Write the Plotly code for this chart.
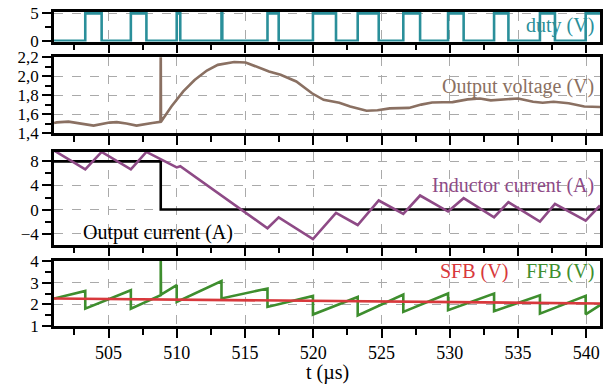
import plotly.graph_objects as go

# ---------------- data ----------------
duty_t = [501.0, 503.29, 504.49, 506.63, 507.77, 509.99, 510.25, 513.27, 513.33,
          516.64, 517.46, 519.97, 521.66, 523.25, 524.79, 526.59, 527.82, 529.87,
          531.01, 533.24, 534.29, 536.6, 537.7, 539.95, 541.0]
duty_v = [0, 5, 0, 5, 0, 5, 0, 5, 0, 5, 0, 5, 0, 5, 0, 5, 0, 5, 0, 5, 0, 5, 0, 5, 5]

vout_t = [501.0, 501.2, 502.06, 503.0, 503.9, 505.06, 505.6, 506.3, 507.05, 508.2,
          508.8, 508.82, 508.84, 509.6, 510.47, 511.3, 512.2, 513.0, 514.2, 515.04,
          515.9, 516.75, 517.6, 518.75, 519.9, 520.75, 521.9, 522.7, 523.9, 524.7,
          525.6, 526.3, 527.0, 527.9, 528.7, 529.5, 530.2, 531.3, 532.2, 533.0,
          534.1, 535.0, 536.1, 536.8, 537.6, 538.7, 539.85, 541.0]
vout_v = [1.505, 1.512, 1.52, 1.50, 1.478, 1.51, 1.515, 1.50, 1.478, 1.505,
          1.518, 2.35, 1.52, 1.68, 1.84, 1.96, 2.06, 2.12, 2.15, 2.145,
          2.10, 2.05, 2.015, 1.945, 1.82, 1.75, 1.72, 1.68, 1.635, 1.64,
          1.66, 1.66, 1.665, 1.70, 1.722, 1.725, 1.726, 1.755, 1.765, 1.745,
          1.76, 1.765, 1.73, 1.72, 1.73, 1.715, 1.68, 1.675]

il_t = [501.0, 503.29, 504.49, 506.63, 507.77, 509.99, 510.25, 514.75, 516.64,
        517.46, 519.97, 521.66, 523.25, 524.79, 526.59, 527.82, 529.87, 531.01,
        533.24, 534.29, 536.6, 537.7, 539.95, 541.0]
il_v = [9.8, 6.67, 9.56, 6.67, 9.56, 7.0, 7.2, 0.0, -3.1,
        -1.3, -4.9, -0.55, -2.56, 1.5, -0.72, 2.33, -0.33, 1.89,
        -1.28, 1.22, -2.0, 0.94, -1.83, 0.67]

io_t = [501.0, 508.82, 508.82, 541.0]
io_v = [8, 8, 0, 0]

sfb_t = [501.0, 521.0, 541.0]
sfb_v = [2.27, 2.15, 2.04]

ffb_t = [501.0, 503.29, 503.29, 506.63, 506.63, 508.82, 508.82, 508.84, 509.99, 509.99,
         513.27, 513.27, 516.64, 516.64, 519.97, 519.97, 523.25, 523.25, 526.59, 526.59,
         529.87, 529.87, 533.24, 533.24, 536.6, 536.6, 539.95, 539.95, 541.0]
ffb_v = [2.27, 2.62, 1.80, 2.65, 1.80, 2.42, 4.2, 2.45, 2.89, 2.11,
         3.07, 2.27, 2.73, 1.88, 2.39, 1.53, 2.34, 1.49, 2.45, 1.65,
         2.50, 1.73, 2.50, 1.68, 2.42, 1.57, 2.39, 1.54, 1.96]

x_ticks = [505, 510, 515, 520, 525, 530, 535, 540]
duty_ticks = [0, 5]
vout_ticks = [1.4, 1.6, 1.8, 2.0, 2.2]
il_ticks = [-4, 0, 4, 8]
fb_ticks = [1, 2, 3, 4]

# ---------------- style ----------------
C_DUTY = "#2a8f9a"
C_VOUT = "#8a7062"
C_IL = "#8e4a86"
C_IO = "#000000"
C_SFB = "#d8383c"
C_FFB = "#3e8e2e"
FONT = "Liberation Serif"
H = 387.0

def dom(top_px, bot_px):
    return [1 - bot_px / H, 1 - top_px / H]

fig = go.Figure()
LW = 2.6
fig.add_trace(go.Scatter(x=duty_t, y=duty_v, mode="lines", line=dict(color=C_DUTY, width=LW, shape="hv"),
                         xaxis="x", yaxis="y", showlegend=False))
fig.add_trace(go.Scatter(x=vout_t, y=vout_v, mode="lines", line=dict(color=C_VOUT, width=LW),
                         xaxis="x2", yaxis="y2", showlegend=False))
fig.add_trace(go.Scatter(x=io_t, y=io_v, mode="lines", line=dict(color=C_IO, width=LW),
                         xaxis="x3", yaxis="y3", showlegend=False))
fig.add_trace(go.Scatter(x=il_t, y=il_v, mode="lines", line=dict(color=C_IL, width=LW),
                         xaxis="x3", yaxis="y3", showlegend=False))
fig.add_trace(go.Scatter(x=ffb_t, y=ffb_v, mode="lines", line=dict(color=C_FFB, width=LW),
                         xaxis="x4", yaxis="y4", showlegend=False))
fig.add_trace(go.Scatter(x=sfb_t, y=sfb_v, mode="lines", line=dict(color=C_SFB, width=LW),
                         xaxis="x4", yaxis="y4", showlegend=False))

grid = dict(showgrid=True, gridcolor="#aaaaaa", griddash="dash", gridwidth=1, zeroline=False)
axline = dict(showline=True, linecolor="black", linewidth=2.5, mirror=True, automargin=False,
              ticks="outside", tickcolor="black", tickwidth=2, ticklen=9)

def xax(anchor, labels):
    d = dict(range=[501.0, 541.0], tickvals=x_ticks, showticklabels=labels, anchor=anchor,
             domain=[0, 1], tickfont=dict(size=18),
             minor=dict(tickvals=[502.5, 507.5, 512.5, 517.5, 522.5, 527.5, 532.5, 537.5],
                        ticks="outside", ticklen=6, tickwidth=2, tickcolor="black", showgrid=False),
             **grid, **axline)
    return d

def yax(anchor, rng, ticks, minor_vals, domain, fmt=None):
    d = dict(range=rng, tickvals=ticks, anchor=anchor, domain=domain, tickfont=dict(size=17),
             minor=dict(tickvals=minor_vals, ticks="outside", ticklen=6, tickwidth=2,
                        tickcolor="black", showgrid=False),
             **grid, **axline)
    if fmt:
        d["tickformat"] = fmt
    return d

fig.update_layout(
    width=609, height=387,
    margin=dict(l=54, r=9, t=0, b=0),
    template="none",
    paper_bgcolor="white", plot_bgcolor="white",
    separators=", ",
    font=dict(family=FONT, size=18, color="black"),
    xaxis=xax("y", False),
    xaxis2=xax("y2", False),
    xaxis3=xax("y3", False),
    xaxis4=xax("y4", True),
    yaxis=yax("x", [-0.15, 5.35], duty_ticks, [2.5], dom(11.5, 41.5)),
    yaxis2=yax("x2", [1.4, 2.2], vout_ticks, [1.5, 1.7, 1.9, 2.1], dom(57.3, 133), ".1f"),
    yaxis3=yax("x3", [-5.8, 9.6], il_ticks, [-2, 2, 6], dom(151.7, 244.5)),
    yaxis4=yax("x4", [1, 4], fb_ticks, [1.5, 2.5, 3.5], dom(261, 326)),
)

ann = [
    dict(text="duty (V)", x=540.7, y=2.7, xref="x", yref="y", xanchor="right", font_color=C_DUTY),
    dict(text="Output voltage (V)", x=540.7, y=1.89, xref="x2", yref="y2", xanchor="right", font_color=C_VOUT),
    dict(text="Inductor current (A)", x=540.7, y=4.0, xref="x3", yref="y3", xanchor="right", font_color=C_IL),
    dict(text="Output current (A)", x=503.0, y=-3.8, xref="x3", yref="y3", xanchor="left", font_color=C_IO),
    dict(text="SFB (V)", x=534.4, y=3.5, xref="x4", yref="y4", xanchor="right", font_color=C_SFB),
    dict(text="FFB (V)", x=540.7, y=3.5, xref="x4", yref="y4", xanchor="right", font_color=C_FFB),
    dict(text="t (µs)", x=0.5, y=1 - 372 / H, xref="paper", yref="paper", xanchor="center", font_color="black"),
]
for a in ann:
    fig.add_annotation(showarrow=False, yanchor="middle", font=dict(family=FONT, size=20, color=a.pop("font_color")), **a)

fig.write_html("out.html", config={"displayModeBar": False},
               post_script="document.body.style.margin='0px';document.body.style.overflow='hidden';")
